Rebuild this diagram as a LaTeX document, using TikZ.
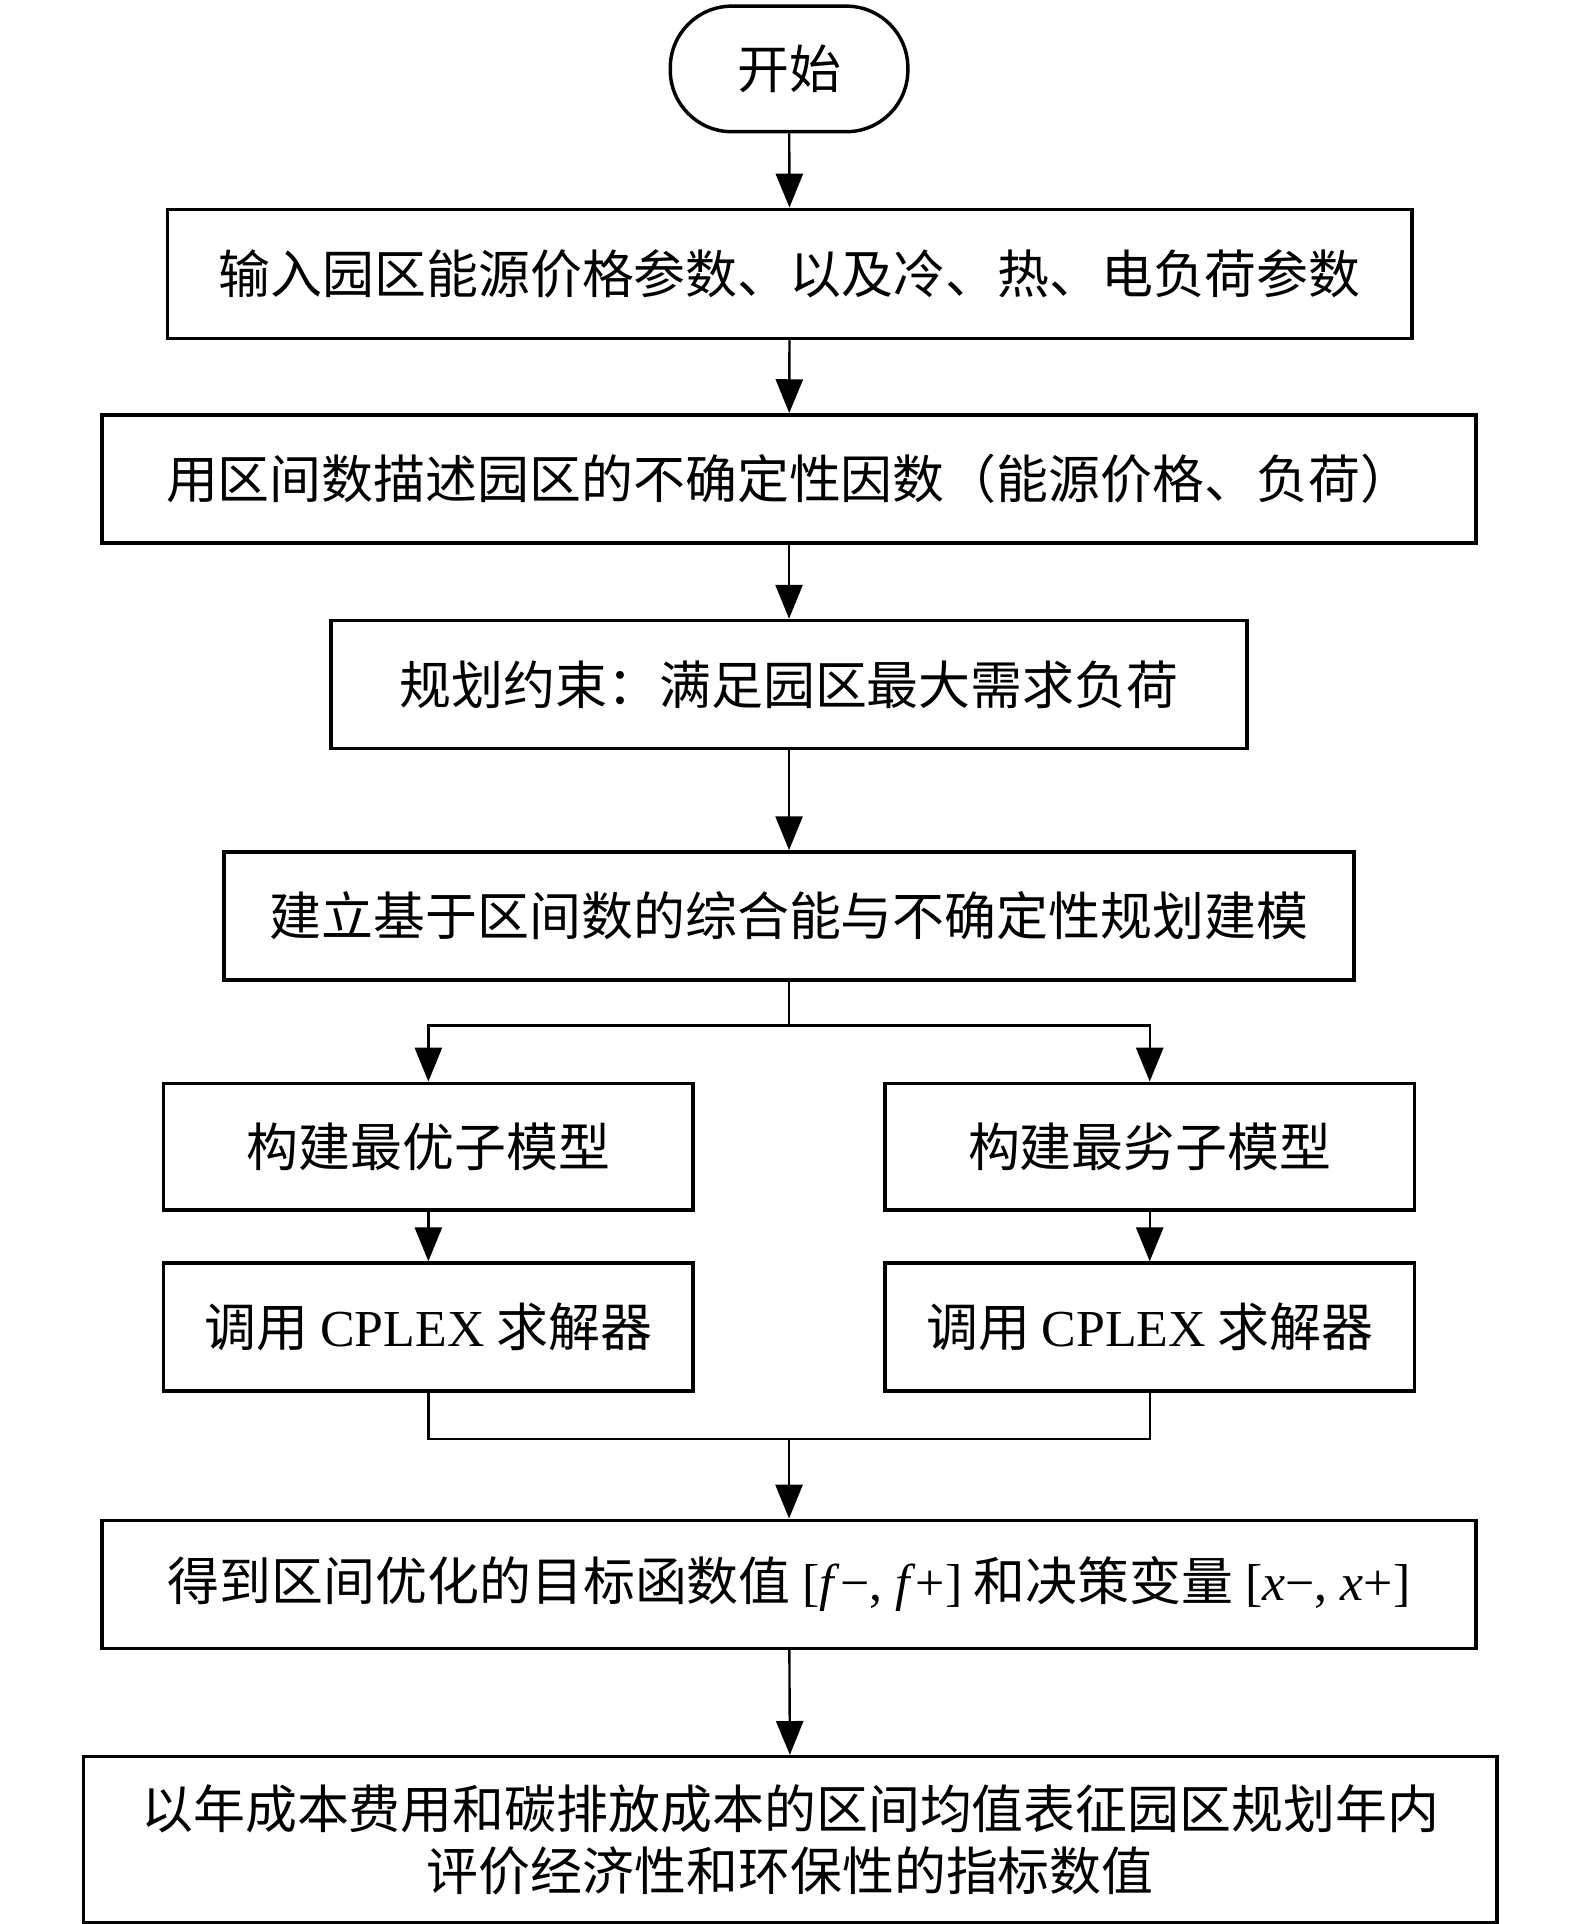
\documentclass[tikz,border=0pt]{standalone}
\usepackage{fontspec}
\setmainfont{Noto Sans CJK SC}
\newfontfamily\lsfont{Liberation Serif}
\usetikzlibrary{arrows.meta}

\begin{document}
\begin{tikzpicture}[
    box/.style={draw,line width=1.6pt,minimum height=2.08cm,inner sep=0pt,align=center,font=\fontsize{24pt}{28.5pt}\selectfont},
    line/.style={line width=1.1pt},
    arr/.style={line,-{Triangle[width=0.44cm,length=0.55cm]}}]
        \useasboundingbox(0,0)rectangle(25.6,-31.26);
        \fill[white](0,0)rectangle(25.6,-31.26);

        \node[box,rounded corners=1cm,minimum width=3.86cm,minimum height=2.04cm](start)at(12.82,-1.12){开始};
        \node[box,minimum width=20.22cm,minimum height=2.1cm](input)at(12.83,-4.45){输入园区能源价格参数、以及冷、热、电负荷参数};
        \node[box,minimum width=22.32cm](interval)at(12.82,-7.78){用区间数描述园区的不确定性因数（能源价格、负荷）};
        \node[box,minimum width=14.88cm](constr)at(12.82,-11.12){规划约束：满足园区最大需求负荷};
        \node[box,minimum width=18.36cm](model)at(12.82,-14.88){建立基于区间数的综合能与不确定性规划建模};
        \node[box,minimum width=8.6cm,minimum height=2.06cm](best)at(6.96,-18.63){构建最优子模型};
        \node[box,minimum width=8.6cm,minimum height=2.06cm](worst)at(18.68,-18.63){构建最劣子模型};
        \node[box,minimum width=8.6cm](solveL)at(6.96,-21.56){调用 {\lsfont CPLEX} 求解器};
        \node[box,minimum width=8.6cm](solveR)at(18.68,-21.56){调用 {\lsfont CPLEX} 求解器};
        \node[box,minimum width=22.32cm](result)at(12.82,-25.74){得到区间优化的目标函数值 {\lsfont[\textit{f}−, \textit{f}+]} 和决策变量 {\lsfont[\textit{x}−, \textit{x}+]}};
        \node[box,minimum width=22.96cm,minimum height=2.7cm](index)at(12.84,-29.89){以年成本费用和碳排放成本的区间均值表征园区规划年内\\评价经济性和环保性的指标数值};

        \coordinate(split)at(12.82,-16.66);
        \coordinate(merge)at(12.82,-23.38);

        \draw[arr](start)--(input);
        \draw[arr](input)--(interval);
        \draw[arr](interval)--(constr);
        \draw[arr](constr)--(model);
        \draw[line](model)--(split);
        \draw[arr](split)-|(best);
        \draw[arr](split)-|(worst);
        \draw[arr](best)--(solveL);
        \draw[arr](worst)--(solveR);
        \draw[line](solveL)|-(merge);
        \draw[line](solveR)|-(merge);
        \draw[arr](merge)--(result);
        \draw[arr](result)--(index);
    \end{tikzpicture}
\end{document}
